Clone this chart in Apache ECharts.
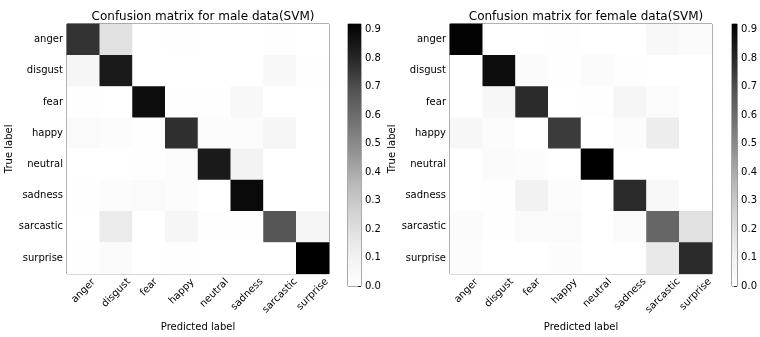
<!DOCTYPE html>
<html lang="en">
<head>
    <meta charset="UTF-8">
    <title>Confusion matrices (SVM)</title>
    <script src="https://cdn.jsdelivr.net/npm/echarts@6/dist/echarts.min.js"></script>
    <style>
        html, body { margin: 0; padding: 0; background: #fff; }
        #chart { width: 760px; height: 337px; }
    </style>
</head>
<body>
<div id="chart"></div>
<script>
    // classes, same order on both axes
    var classes = ['anger', 'disgust', 'fear', 'happy', 'neutral', 'sadness', 'sarcastic', 'surprise'];

    // rows = true label, columns = predicted label
    var maleMatrix = [
        [0.77, 0.19, 0.00, 0.01, 0.00, 0.00, 0.01, 0.00],
        [0.07, 0.84, 0.00, 0.00, 0.00, 0.00, 0.05, 0.01],
        [0.01, 0.00, 0.88, 0.01, 0.01, 0.05, 0.00, 0.00],
        [0.04, 0.02, 0.01, 0.78, 0.02, 0.02, 0.08, 0.00],
        [0.00, 0.00, 0.01, 0.02, 0.84, 0.09, 0.00, 0.00],
        [0.01, 0.02, 0.04, 0.02, 0.00, 0.89, 0.00, 0.00],
        [0.00, 0.14, 0.00, 0.07, 0.01, 0.01, 0.68, 0.08],
        [0.01, 0.03, 0.00, 0.01, 0.00, 0.00, 0.00, 0.92]
    ];
    var femaleMatrix = [
        [0.91, 0.00, 0.00, 0.01, 0.00, 0.00, 0.05, 0.03],
        [0.00, 0.88, 0.03, 0.01, 0.03, 0.01, 0.00, 0.00],
        [0.00, 0.06, 0.79, 0.00, 0.01, 0.07, 0.02, 0.00],
        [0.06, 0.02, 0.00, 0.75, 0.00, 0.02, 0.13, 0.00],
        [0.00, 0.03, 0.02, 0.00, 0.92, 0.00, 0.00, 0.00],
        [0.00, 0.01, 0.10, 0.02, 0.00, 0.79, 0.05, 0.00],
        [0.03, 0.01, 0.04, 0.04, 0.00, 0.04, 0.62, 0.19],
        [0.02, 0.00, 0.00, 0.02, 0.00, 0.00, 0.15, 0.79]
    ];
    var titles = ['Confusion matrix for male data(SVM)', 'Confusion matrix for female data(SVM)'];
    var cbTicks = [0.0, 0.1, 0.2, 0.3, 0.4, 0.5, 0.6, 0.7, 0.8, 0.9];

    // matplotlib "Greys"
    var greys = ['#ffffff', '#f0f0f0', '#d9d9d9', '#bdbdbd', '#969696', '#737373', '#525252', '#252525', '#000000'];
    var FONT = 'DejaVu Sans';
    var LBL = 10;

    function toCells(m) {
        var out = [];
        for (var r = 0; r < m.length; r++)
            for (var c = 0; c < m[r].length; c++)
                out.push([c, r, m[r][c]]);
        return out;
    }
    function maxOf(m) {
        return Math.max.apply(null, m.map(function (r) { return Math.max.apply(null, r); }));
    }
    function tick() {
        return { show: true, inside: true, length: 4, alignWithLabel: true, lineStyle: { color: '#222' } };
    }

    // rotated x labels: centred under the tick and hung from the top, like matplotlib
    var ctx = document.createElement('canvas').getContext('2d');
    ctx.font = LBL + 'px "' + FONT + '"';
    function richLabels() {
        var rich = {};
        classes.forEach(function (c, i) {
            var p = Math.round((ctx.measureText(c).width + LBL) / 2);
            rich['p' + i] = { padding: [p, p, 0, 0], fontSize: LBL, fontFamily: FONT, color: '#000' };
        });
        return rich;
    }

    var panels = [
        { left: 67, cb: 348, cbw: 13, m: maleMatrix },
        { left: 450, cb: 732, cbw: 12, m: femaleMatrix }
    ];
    var plotSize = 262, plotTop = 24;

    var titleList = [], grids = [], xAxes = [], yAxes = [], seriesList = [], vms = [];

    // heat maps: grids 0,1 / axes 0..3
    panels.forEach(function (p, k) {
        titleList.push({
            text: titles[k], left: p.left + plotSize / 2, top: 6, textAlign: 'center',
            textStyle: { fontSize: 12, fontWeight: 'normal', color: '#000', fontFamily: FONT }
        });
        grids.push({ left: p.left, top: plotTop, width: plotSize, height: plotSize, show: true, borderColor: '#333', borderWidth: 1 });

        xAxes.push({
            type: 'category', gridIndex: k, data: classes, position: 'bottom',
            axisLine: { show: false }, axisTick: tick(), splitLine: { show: false },
            axisLabel: {
                interval: 0, rotate: 45, margin: 3, align: 'center', verticalAlign: 'middle',
                formatter: function (v, i) { return '{p' + i + '|' + v + '}'; }, rich: richLabels()
            },
            name: 'Predicted label', nameLocation: 'middle', nameGap: 31,
            nameTextStyle: { fontSize: LBL, color: '#000', fontFamily: FONT }
        });
        xAxes.push({
            type: 'category', gridIndex: k, data: classes, position: 'top',
            axisLine: { show: false }, axisTick: tick(), axisLabel: { show: false }
        });
        yAxes.push({
            type: 'category', gridIndex: k, data: classes, inverse: true, position: 'left',
            axisLine: { show: false }, axisTick: tick(), splitLine: { show: false },
            axisLabel: { interval: 0, margin: 4, fontSize: LBL, color: '#000', fontFamily: FONT },
            name: 'True label', nameLocation: 'middle', nameGap: 48,
            nameTextStyle: { fontSize: LBL, color: '#000', fontFamily: FONT }
        });
        yAxes.push({
            type: 'category', gridIndex: k, data: classes, inverse: true, position: 'right',
            axisLine: { show: false }, axisTick: tick(), axisLabel: { show: false }
        });
        seriesList.push({
            type: 'heatmap', xAxisIndex: k * 2, yAxisIndex: k * 2, data: toCells(p.m)
        });
        vms.push({
            type: 'continuous', show: false, seriesIndex: k,
            min: 0, max: maxOf(p.m), inRange: { color: greys }
        });
    });

    // colour bars: grids 2,3 / axes 4,5 ; one bar from 0 to vmax
    panels.forEach(function (p, k) {
        var vmax = maxOf(p.m);
        var grad = greys.slice().reverse().map(function (col, i, a) {
            return { offset: i / (a.length - 1), color: col };
        });
        grids.push({ left: p.cb, top: plotTop, width: p.cbw, height: plotSize, show: true, borderColor: '#555', borderWidth: 1 });
        xAxes.push({ type: 'category', gridIndex: 2 + k, data: ['cb'], show: false });
        yAxes.push({
            type: 'value', gridIndex: 2 + k, min: 0, max: vmax, interval: 0.1, position: 'right',
            axisLine: { show: false }, splitLine: { show: false },
            axisTick: { show: true, inside: true, length: 3, lineStyle: { color: '#222' } },
            axisLabel: {
                margin: 4, fontSize: LBL, color: '#000', fontFamily: FONT, showMaxLabel: false,
                formatter: function (v) {
                    return cbTicks.some(function (t) { return Math.abs(t - v) < 1e-6; }) ? v.toFixed(1) : '';
                }
            }
        });
        seriesList.push({
            type: 'bar', xAxisIndex: 4 + k, yAxisIndex: 4 + k, data: [vmax],
            barWidth: '100%', silent: true,
            itemStyle: { color: new echarts.graphic.LinearGradient(0, 0, 0, 1, grad) }
        });
    });

    var chart = echarts.init(document.getElementById('chart'));
    chart.setOption({
        animation: false,
        backgroundColor: '#fff',
        title: titleList,
        grid: grids,
        xAxis: xAxes,
        yAxis: yAxes,
        visualMap: vms,
        series: seriesList
    });
</script>
</body>
</html>
